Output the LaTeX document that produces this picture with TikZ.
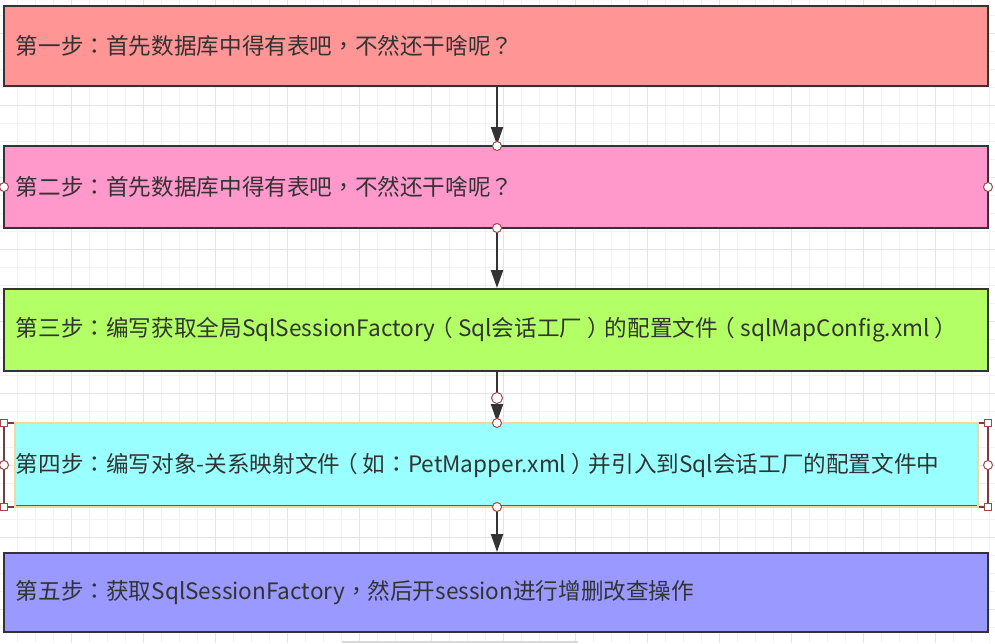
\documentclass[tikz,border=0pt]{standalone}
\usepackage{fontspec}
\setmainfont{Noto Sans CJK SC}
\newfontfamily\tcf{Noto Sans CJK TC}
\newcommand\pun[1]{{\tcf #1}}
\newcommand\myLP{\hspace{-0.22em}（\hspace{0.22em}}
\newcommand\myRP{\hspace{0.22em}）\hspace{-0.22em}}
\usetikzlibrary{arrows.meta}
\definecolor{c1}{HTML}{FF9595}
\definecolor{c2}{HTML}{FF99CC}
\definecolor{c3}{HTML}{B3FF66}
\definecolor{c4}{HTML}{99FFFF}
\definecolor{c5}{HTML}{9999FF}
\definecolor{edge}{HTML}{333333}
\definecolor{txt}{HTML}{333333}
\definecolor{gridminor}{HTML}{F2F2F2}
\definecolor{gridmajor}{HTML}{E4E4E4}
\definecolor{handlec}{HTML}{A04848}
\definecolor{cream}{HTML}{F5D6A0}
\tikzset{
  stepbox/.style={rectangle, draw=edge, line width=2pt, minimum width=984pt,
    text width=960pt, inner xsep=12pt, align=left, text=txt,
    font=\fontsize{22.6pt}{26pt}\selectfont},
  arr/.style={draw=edge, line width=2pt, -{Triangle[length=18pt,width=12pt]}},
  hcirc/.style={draw=handlec, fill=white, line width=1pt},
  hsq/.style={draw=handlec, fill=white, line width=1pt},
}
\newcommand\lowr[1]{\leavevmode\raisebox{-2.5pt}{#1}}
\begin{document}
\begin{tikzpicture}[x=1pt,y=-1pt]
\useasboundingbox (0,0) rectangle (995,643);
\fill[white] (0,0) rectangle (995,643);
% grid
\foreach \i in {0,...,54} {\draw[gridminor, line width=1pt] (17+18*\i,0) -- (17+18*\i,643);}
\foreach \i in {0,...,35} {\draw[gridminor, line width=1pt] (0,15+18*\i) -- (995,15+18*\i);}
\foreach \i in {0,...,13} {\draw[gridmajor, line width=1pt] (71+72*\i,0) -- (71+72*\i,643);}
\foreach \i in {0,...,8} {\draw[gridmajor, line width=1pt] (0,33+72*\i) -- (995,33+72*\i);}
% boxes
\node[stepbox, fill=c1, minimum height=80pt] (b1) at (496,46) {\lowr{第一步\pun{：}首先数据库中得有表吧\pun{，}不然还干啥呢\pun{？}}};
\node[stepbox, fill=c2, minimum height=82pt] (b2) at (496,187) {\lowr{第二步\pun{：}首先数据库中得有表吧\pun{，}不然还干啥呢\pun{？}}};
\node[stepbox, fill=c3, minimum height=82pt] (b3) at (496,330) {\lowr{第三步\pun{：}编写获取全局SqlSessionFactory\myLP Sql会话工厂\myRP 的配置文件\myLP sqlMapConfig.xml\myRP}};
\node[stepbox, fill=c5, minimum height=79pt] (b5) at (496,592.5) {\lowr{第五步\pun{：}获取SqlSessionFactory\pun{，}然后开session进行增删改查操作}};
% selected box 4
\draw[handlec!60!edge, line width=2pt] (4,423) rectangle (988,507);
\fill[white] (5,424) rectangle (987,506);
\foreach \i in {0,...,54} {\draw[gridminor, line width=1pt] (17+18*\i,424) -- (17+18*\i,506);}
\foreach \i in {0,...,13} {\draw[gridmajor, line width=1pt] (71+72*\i,424) -- (71+72*\i,506);}
\draw[gridminor, line width=1pt] (5,447) -- (987,447);
\draw[gridminor, line width=1pt] (5,483) -- (987,483);
\draw[gridminor, line width=1pt] (5,501) -- (987,501);
\draw[gridmajor, line width=1pt] (5,465) -- (987,465);
\node[stepbox, fill=c4, draw=cream, minimum width=963pt, text width=961pt, inner xsep=1pt, minimum height=84pt] (b4) at (496.5,465) {\lowr{第四步\pun{：}编写对象-关系映射文件\myLP 如\pun{：}PetMapper.xml\myRP 并引入到Sql会话工厂的配置文件中}};
\draw[edge!80, line width=1pt] (16,505) -- (977,505);
% arrows
\draw[arr] (b1.south -| 497,0) -- (b2.north -| 497,0);
\draw[arr] (b2.south -| 497,0) -- (b3.north -| 497,0);
\draw[arr] (b3.south -| 497,0) -- (b4.north -| 497,0);
\draw[arr] (b4.south -| 497,0) -- (b5.north -| 497,0);
\draw[red!70!black, line width=0.8pt] (497,398) -- (497,422);
\draw[hcirc] (497,398) circle (5.5);
% handles box 2
\draw[hcirc] (497,146) circle (4.5);
\draw[hcirc] (497,228) circle (4.5);
\draw[hcirc] (4,187) circle (4.5);
\draw[hcirc] (988,187) circle (4.5);
% handles box 4
\draw[hcirc] (497,423) circle (4.5);
\draw[hcirc] (497,507) circle (4.5);
\draw[hcirc] (4,465) circle (4.5);
\draw[hcirc] (988,465) circle (4.5);
\foreach \p in {(4,423),(988,423),(4,507),(988,507)} {\draw[hsq] \p ++(-3.5,-3.5) rectangle ++(7,7);}
% bottom bar
\draw[black!15, line width=2pt] (342,642) -- (578,642);
\end{tikzpicture}
\end{document}
